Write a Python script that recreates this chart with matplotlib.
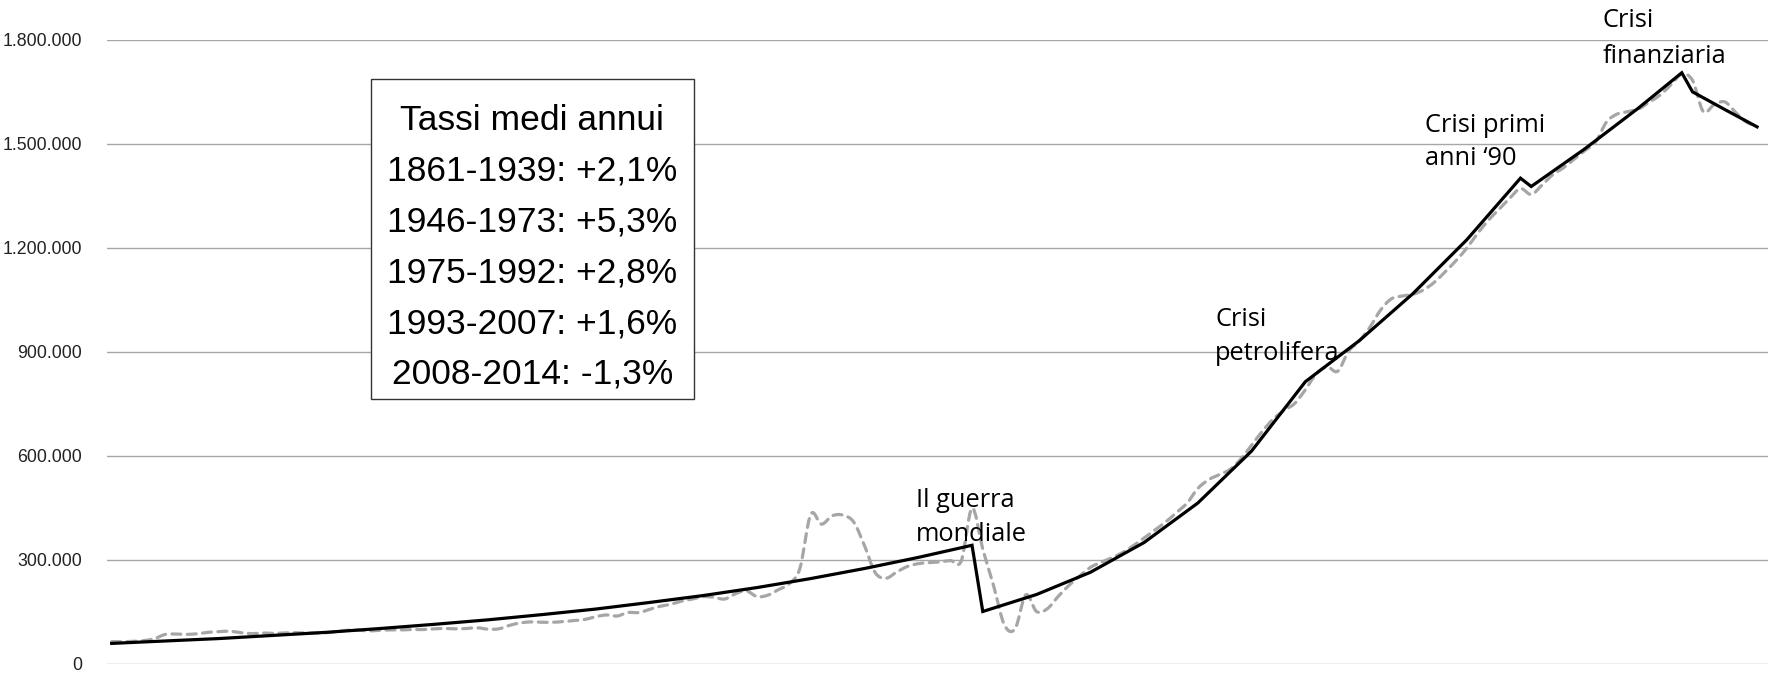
import matplotlib
matplotlib.use("Agg")
import matplotlib.pyplot as plt
from matplotlib.path import Path
from matplotlib.patches import PathPatch, Rectangle
from matplotlib.ticker import FuncFormatter
import numpy as np

# ---------------- data ----------------
years = list(range(1861, 2015))
pil_values = [
    63, 63, 64, 66, 72, 84, 85, 84, 86, 90,            # 1861-1870
    92, 93, 89, 86, 88, 87, 88, 89, 88, 88,            # 1871-1880
    89, 92, 96, 96, 94, 96, 97, 97, 98, 98,            # 1881-1890
    100, 101, 100, 101, 103, 99, 100, 110, 117, 120,   # 1891-1900
    119, 119, 121, 124, 127, 135, 140, 137, 147, 147,  # 1901-1910
    156, 165, 171, 180, 186, 193, 191, 186, 201, 210,  # 1911-1920
    193, 197, 213, 230, 275, 430, 402, 426, 428, 408,  # 1921-1930
    340, 262, 246, 264, 280, 288, 291, 293, 297, 296,  # 1931-1940
    448, 330, 225, 112, 100, 198, 150, 158, 193, 225,  # 1941-1950
    252, 277, 292, 305, 320, 340, 362, 385, 408, 435,  # 1951-1960
    463, 505, 530, 545, 560, 590, 630, 670, 705, 730,  # 1961-1970
    750, 790, 835, 856, 843, 900, 930, 970, 1020, 1052,  # 1971-1980
    1060, 1065, 1078, 1100, 1130, 1162, 1198, 1240, 1278, 1310,  # 1981-1990
    1342, 1370, 1353, 1380, 1410, 1430, 1455, 1480, 1505, 1562,  # 1991-2000
    1585, 1592, 1600, 1620, 1640, 1670, 1700, 1682, 1592, 1612,  # 2001-2010
    1620, 1590, 1562, 1550,                                       # 2011-2014
]
pil_values = [v * 1000 for v in pil_values]

trend_years = [1861, 1866, 1871, 1876, 1881, 1886, 1891, 1896, 1901, 1906,
               1911, 1916, 1921, 1926, 1931, 1936, 1941,
               1942, 1947, 1952, 1957, 1962, 1967, 1972,
               1977, 1982, 1987, 1992,
               1993, 1998, 2003, 2007,
               2008, 2011, 2014]
trend_values = [58, 65, 72, 81, 90, 101, 113, 126, 141, 157,
                176, 196, 219, 245, 274, 306, 341,
                150, 199, 263, 349, 463, 613, 813,
                931, 1067, 1222, 1400,
                1376, 1485, 1603, 1704,
                1649, 1598, 1548]
trend_values = [v * 1000 for v in trend_values]

y_ticks = [0, 300000, 600000, 900000, 1200000, 1500000, 1800000]

box_title = "Tassi medi annui"
box_lines = ["1861-1939: +2,1%", "1946-1973: +5,3%", "1975-1992: +2,8%",
             "1993-2007: +1,6%", "2008-2014: -1,3%"]

notes = [
    (["Il guerra", "mondiale"], 1935.8),
    (["Crisi", "petrolifera"], 1963.6),
    (["Crisi primi", "anni \u201890"], 1983.1),
    (["Crisi", "finanziaria"], 1999.6),
]
notes_baseline_px = [(507, 541), (326, 360), (132, 165), (27, 63)]

# ---------------- figure ----------------
W, H = 1768, 673
fig = plt.figure(figsize=(W / 100, H / 100), dpi=100)
ax_left, ax_right = 107, 1768
ax_top, ax_bottom = 39.5, 663.5
ax = fig.add_axes([ax_left / W, 1 - ax_bottom / H,
                   (ax_right - ax_left) / W, (ax_bottom - ax_top) / H])

x0 = 1861 - (111.7 - ax_left) / 10.754
x1 = 1861 + (ax_right - 111.7) / 10.754
ax.set_xlim(x0, x1)
ax.set_ylim(0, 1800000)

for s in ax.spines.values():
    s.set_visible(False)
ax.set_xticks([])
ax.set_yticks(y_ticks)
ax.yaxis.set_major_formatter(FuncFormatter(lambda v, p: f"{int(round(v)):,}".replace(",", ".")))
ax.tick_params(axis="y", length=0, pad=18, labelsize=12.8, labelcolor="#222222")
for lab in ax.get_yticklabels():
    lab.set_family(["Liberation Sans", "DejaVu Sans"])
ax.grid(axis="y", color="#a6a6a6", linewidth=1.0)
ax.set_axisbelow(True)

# smoothed (Excel-like) dashed line through the yearly values
xs = np.array(years, dtype=float)
ys = np.array(pil_values, dtype=float)
verts = [(xs[0], ys[0])]
codes = [Path.MOVETO]
n = len(xs)
for i in range(n - 1):
    p0 = np.array([xs[max(i - 1, 0)], ys[max(i - 1, 0)]])
    p1 = np.array([xs[i], ys[i]])
    p2 = np.array([xs[i + 1], ys[i + 1]])
    p3 = np.array([xs[min(i + 2, n - 1)], ys[min(i + 2, n - 1)]])
    c1 = p1 + (p2 - p0) / 6.0
    c2 = p2 - (p3 - p1) / 6.0
    verts += [tuple(c1), tuple(c2), tuple(p2)]
    codes += [Path.CURVE4] * 3
patch = PathPatch(Path(verts, codes), fill=False, edgecolor="#a6a6a6",
                  linewidth=2.3, linestyle=(0, (2.8, 2.0)), capstyle="round", zorder=3)
ax.add_patch(patch)

ax.plot(trend_years, trend_values, color="black", linewidth=2.3, zorder=4,
        solid_joinstyle="miter")

# annotations
note_font = ["Open Sans", "DejaVu Sans"]
for (lines, xyr), (b1, b2) in zip(notes, notes_baseline_px):
    for line, bpx in zip(lines, (b1, b2)):
        yv = (ax_bottom - bpx) / (ax_bottom - ax_top) * 1800000
        ax.text(xyr, yv, line, family=note_font, fontsize=18.3, color="black",
                ha="left", va="baseline", zorder=5, clip_on=False)

# text box
bx0, by0, bx1, by1 = 370.7, 79, 694, 399.3
rect = Rectangle((bx0 / W, 1 - by1 / H), (bx1 - bx0) / W, (by1 - by0) / H,
                 transform=fig.transFigure, facecolor="white", edgecolor="#333333",
                 linewidth=1.0, zorder=6)
fig.add_artist(rect)
box_font = ["Liberation Sans", "DejaVu Sans"]
cx = (bx0 + bx1) / 2 / W
for k, line in enumerate([box_title] + box_lines):
    base = 130 + 50.8 * k
    fig.text(cx, 1 - base / H, line, family=box_font, fontsize=25.5, color="black",
             ha="center", va="baseline", zorder=7)

fig.savefig("out.png", dpi=100)
